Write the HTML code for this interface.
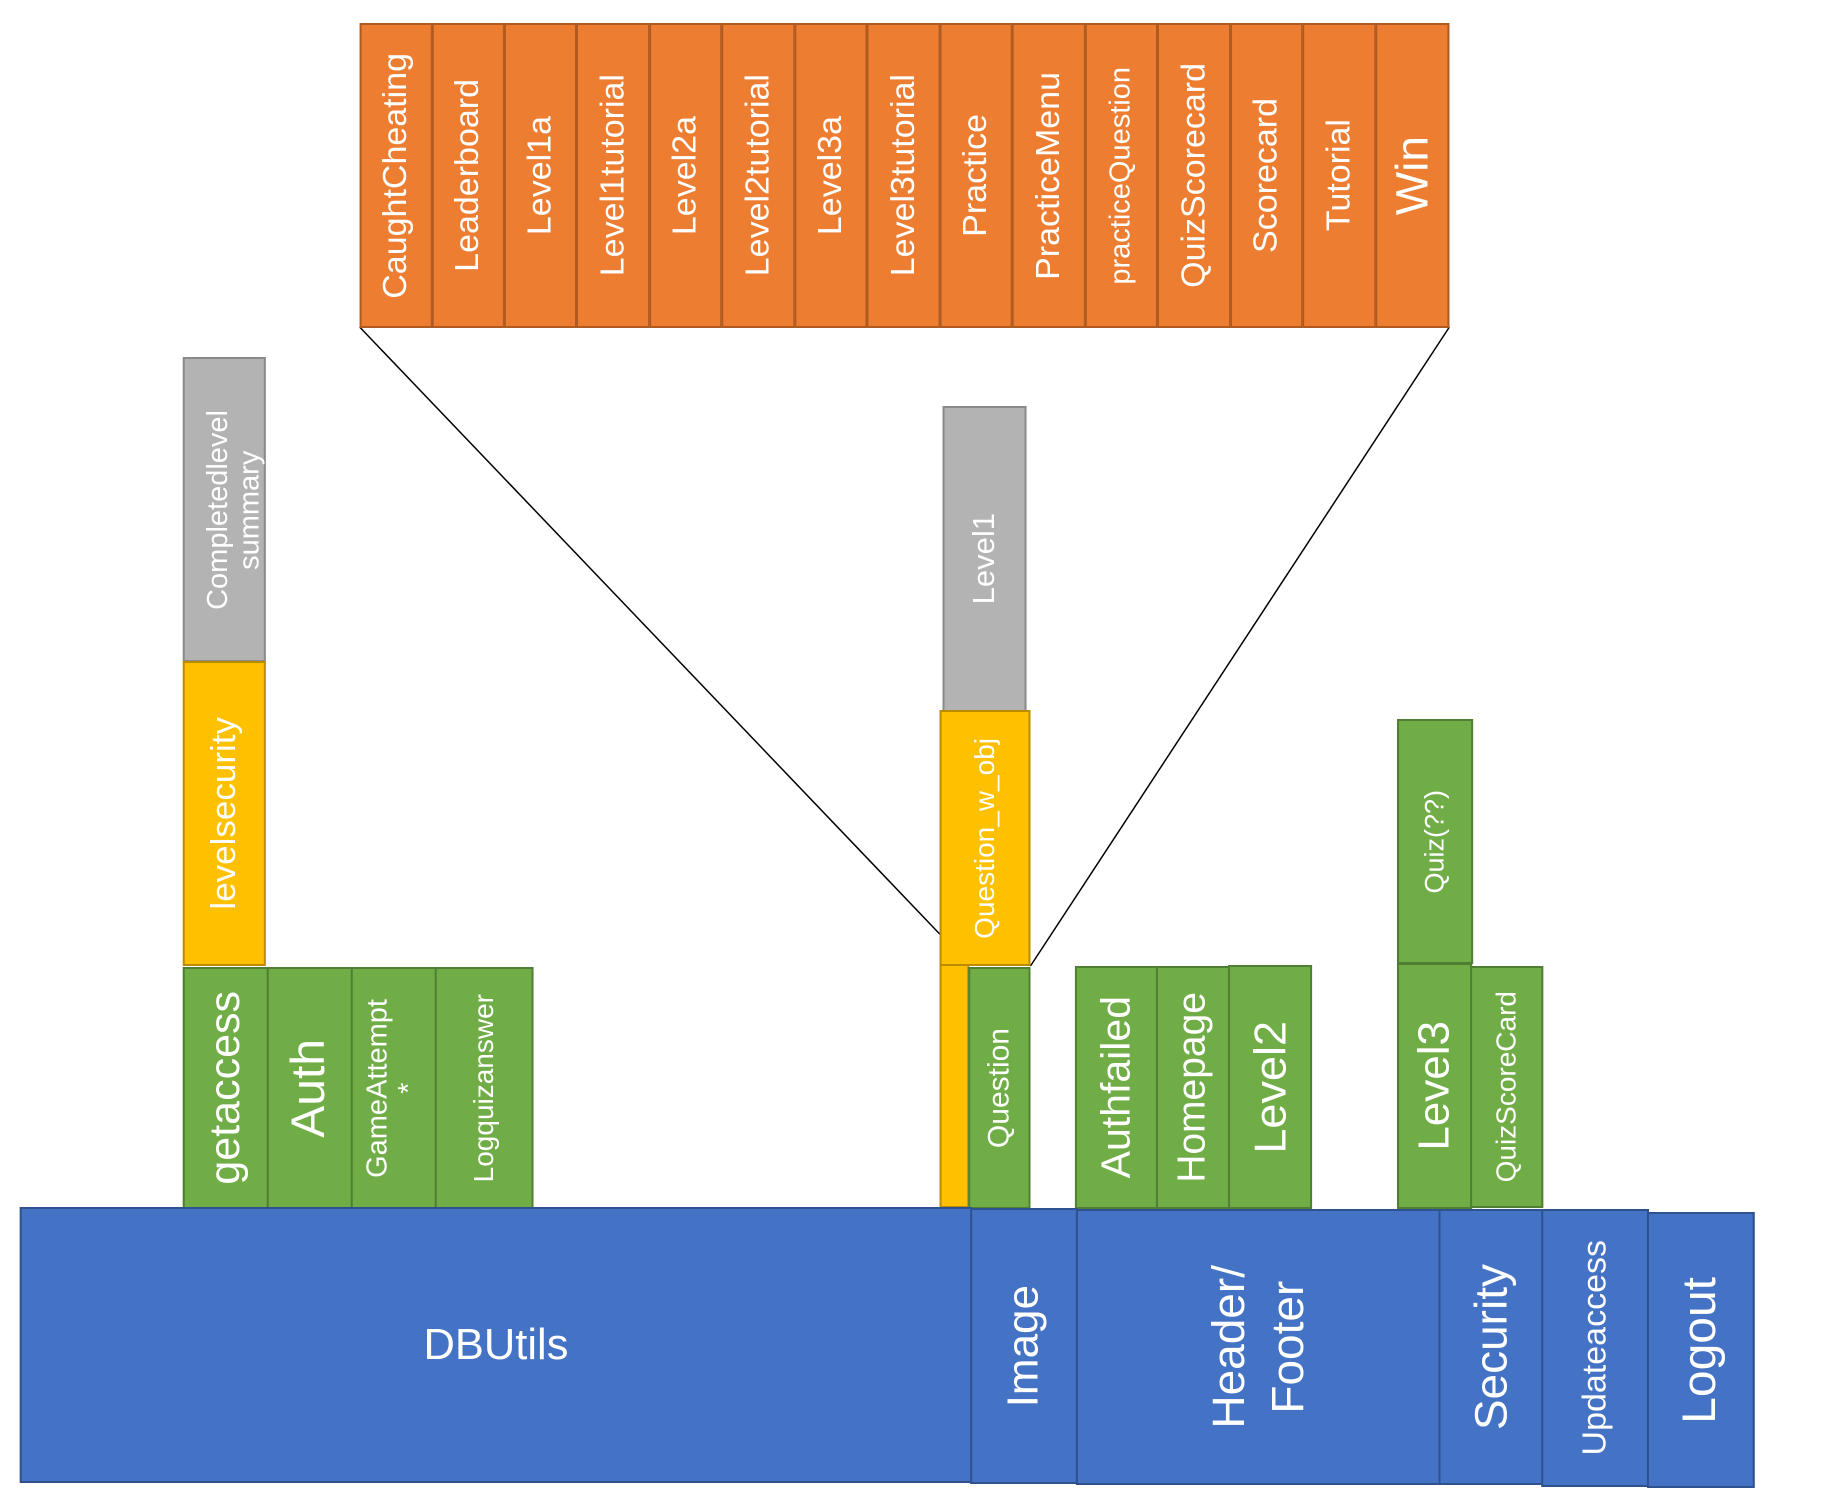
<!DOCTYPE html>
<html><head><meta charset="utf-8"><style>
html,body{margin:0;padding:0;background:#fff;}
body{width:1838px;height:1499px;position:relative;overflow:hidden;font-family:"Liberation Sans",sans-serif;}
#w{position:absolute;left:0;top:0;width:1838px;height:1499px;transform:scaleX(0.988);transform-origin:0 0;}
.b{position:absolute;box-sizing:border-box;border:2px solid;display:flex;align-items:center;justify-content:center;color:#fff;}
.v{writing-mode:vertical-rl;transform:rotate(180deg);white-space:nowrap;line-height:1.1;text-align:center;}
.bl{background:#4472C4;border-color:#2F528F;}
.gr{background:#70AD47;border-color:#507E32;}
.or{background:#ED7D31;border-color:#AE5A21;}
.ye{background:#FFC000;border-color:#BC8C00;}
.gy{background:#B3B3B3;border-color:#8A8A8A;}
</style></head><body><div id="w">
<svg width="1838" height="1499" style="position:absolute;left:0;top:0">
<line x1="364" y1="327" x2="954" y2="937" stroke="#000" stroke-width="1.5"/>
<line x1="1467" y1="327" x2="1043" y2="966" stroke="#000" stroke-width="1.5"/>
</svg>

<div class="b or" style="left:364px;top:23px;width:74px;height:305px"><span class="v" style="font-size:34px">CaughtCheating</span></div>
<div class="b or" style="left:437px;top:23px;width:74px;height:305px"><span class="v" style="font-size:34px">Leaderboard</span></div>
<div class="b or" style="left:510px;top:23px;width:74px;height:305px"><span class="v" style="font-size:34px">Level1a</span></div>
<div class="b or" style="left:583px;top:23px;width:75px;height:305px"><span class="v" style="font-size:34px">Level1tutorial</span></div>
<div class="b or" style="left:657px;top:23px;width:74px;height:305px"><span class="v" style="font-size:34px">Level2a</span></div>
<div class="b or" style="left:730px;top:23px;width:75px;height:305px"><span class="v" style="font-size:34px">Level2tutorial</span></div>
<div class="b or" style="left:804px;top:23px;width:74px;height:305px"><span class="v" style="font-size:34px">Level3a</span></div>
<div class="b or" style="left:877px;top:23px;width:75px;height:305px"><span class="v" style="font-size:34px">Level3tutorial</span></div>
<div class="b or" style="left:951px;top:23px;width:74px;height:305px"><span class="v" style="font-size:34px">Practice</span></div>
<div class="b or" style="left:1024px;top:23px;width:75px;height:305px"><span class="v" style="font-size:34px">PracticeMenu</span></div>
<div class="b or" style="left:1098px;top:23px;width:74px;height:305px"><span class="v" style="font-size:29px">practiceQuestion</span></div>
<div class="b or" style="left:1171px;top:23px;width:75px;height:305px"><span class="v" style="font-size:34px">QuizScorecard</span></div>
<div class="b or" style="left:1245px;top:23px;width:74px;height:305px"><span class="v" style="font-size:34px">Scorecard</span></div>
<div class="b or" style="left:1318px;top:23px;width:75px;height:305px"><span class="v" style="font-size:34px">Tutorial</span></div>
<div class="b or" style="left:1392px;top:23px;width:75px;height:305px"><span class="v" style="font-size:46px">Win</span></div>

<div class="b gy" style="left:185px;top:357px;width:84px;height:305px"><span class="v" style="font-size:29px;margin-left:22px">Completedlevel<br>summary</span></div>
<div class="b ye" style="left:185px;top:661px;width:84px;height:305px"><span class="v" style="font-size:35px">levelsecurity</span></div>
<div class="b gr" style="left:185px;top:967px;width:87px;height:242px"><span class="v" style="font-size:43px">getaccess</span></div>
<div class="b gr" style="left:270px;top:967px;width:87px;height:242px"><span class="v" style="font-size:48px">Auth</span></div>
<div class="b gr" style="left:355px;top:967px;width:87px;height:242px"><span class="v" style="font-size:29px">GameAttempt<br>*</span></div>
<div class="b gr" style="left:440px;top:967px;width:100px;height:242px"><span class="v" style="font-size:28px">Logquizanswer</span></div>

<div class="b gy" style="left:954px;top:406px;width:85px;height:306px"><span class="v" style="font-size:31px">Level1</span></div>
<div class="b ye" style="left:951px;top:710px;width:92px;height:256px"><span class="v" style="font-size:28px">Question_w_obj</span></div>
<div class="b ye" style="left:951px;top:964px;width:30px;height:244px"></div>
<div class="b gr" style="left:980px;top:967px;width:63px;height:242px"><span class="v" style="font-size:30px">Question</span></div>

<div class="b gr" style="left:1088px;top:966px;width:84px;height:243px"><span class="v" style="font-size:41px">Authfailed</span></div>
<div class="b gr" style="left:1170px;top:966px;width:75px;height:243px"><span class="v" style="font-size:39px">Homepage</span></div>
<div class="b gr" style="left:1243px;top:965px;width:85px;height:244px"><span class="v" style="font-size:45px">Level2</span></div>

<div class="b gr" style="left:1414px;top:719px;width:77px;height:245px"><span class="v" style="font-size:27px">Quiz(??)</span></div>
<div class="b gr" style="left:1414px;top:963px;width:76px;height:246px"><span class="v" style="font-size:44px">Level3</span></div>
<div class="b gr" style="left:1488px;top:966px;width:74px;height:242px"><span class="v" style="font-size:28px">QuizScoreCard</span></div>

<div class="b bl" style="left:20px;top:1207px;width:964px;height:276px"><span style="font-size:44px">DBUtils</span></div>
<div class="b bl" style="left:982px;top:1208px;width:109px;height:276px"><span class="v" style="font-size:44px">Image</span></div>
<div class="b bl" style="left:1089px;top:1209px;width:369px;height:276px"><span class="v" style="font-size:46px;line-height:1.3">Header/<br>Footer</span></div>
<div class="b bl" style="left:1456px;top:1209px;width:106px;height:276px"><span class="v" style="font-size:46px">Security</span></div>
<div class="b bl" style="left:1560px;top:1209px;width:109px;height:278px"><span class="v" style="font-size:34px">Updateaccess</span></div>
<div class="b bl" style="left:1667px;top:1212px;width:109px;height:276px"><span class="v" style="font-size:48px">Logout</span></div>
</div></body></html>
